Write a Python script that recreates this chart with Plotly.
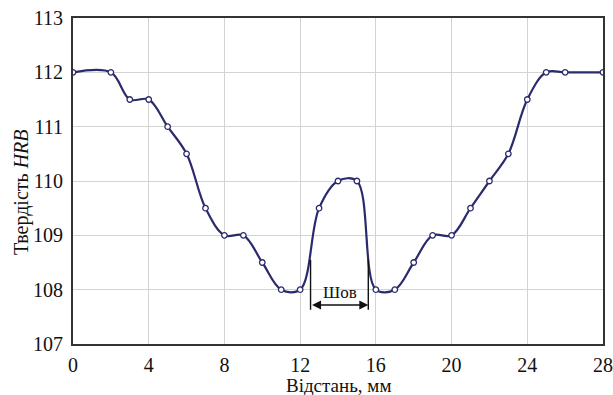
import plotly.graph_objects as go

distance = [0, 2, 3, 4, 5, 6, 7, 8, 9, 10, 11, 12, 13, 14, 15, 16, 17, 18, 19, 20, 21, 22, 23, 24, 25, 26, 28]
hardness = [112, 112, 111.5, 111.5, 111, 110.5, 109.5, 109, 109, 108.5, 108, 108, 109.5, 110, 110,
            108, 108, 108.5, 109, 109, 109.5, 110, 110.5, 111.5, 112, 112, 112]

x_ticks = [0, 4, 8, 12, 16, 20, 24, 28]
y_ticks = [107, 108, 109, 110, 111, 112, 113]

weld_bounds = [12.55, 15.6]
weld_line_y = [107.63, 108.55]
weld_arrow_y = 107.72
weld_label = "Шов"
weld_label_pos = [14.08, 107.95]

x_title = "Відстань, мм"
y_title = "Твердість <i>HRB</i>"

navy = "#2a2a6c"
font_family = "Liberation Serif, serif"

fig = go.Figure()
fig.add_trace(go.Scatter(
    x=distance, y=hardness, mode="lines+markers",
    line=dict(color=navy, width=2.2, shape="spline", smoothing=1.0),
    marker=dict(size=5.5, color="white", line=dict(color=navy, width=1.3)),
    showlegend=False, hoverinfo="x+y",
))

for xb in weld_bounds:
    fig.add_shape(type="line", x0=xb, x1=xb, y0=weld_line_y[0], y1=weld_line_y[1],
                  xref="x", yref="y", line=dict(color="#111111", width=1.4))

fig.add_annotation(x=weld_bounds[1], y=weld_arrow_y, ax=weld_bounds[0], ay=weld_arrow_y,
                   xref="x", yref="y", axref="x", ayref="y", text="", showarrow=True,
                   arrowhead=2, arrowside="end+start", arrowsize=1.2, arrowwidth=1.5,
                   arrowcolor="#111111", standoff=0, startstandoff=0)
fig.add_annotation(x=weld_label_pos[0], y=weld_label_pos[1], xref="x", yref="y",
                   text=weld_label, showarrow=False,
                   font=dict(family=font_family, size=17, color="#111111"))

# axis titles
fig.add_annotation(x=0.5, y=-0.128, xref="paper", yref="paper", text=x_title,
                   showarrow=False, xanchor="center", yanchor="middle",
                   font=dict(family=font_family, size=19, color="#111111"))
fig.add_annotation(x=-0.097, y=0.465, xref="paper", yref="paper", text=y_title,
                   showarrow=False, xanchor="center", yanchor="middle", textangle=-90,
                   font=dict(family=font_family, size=20, color="#111111"))

axis_common = dict(
    showgrid=True, gridcolor="#d3d3d3", gridwidth=1,
    showline=True, linecolor="#333333", linewidth=2, mirror=True,
    ticks="", zeroline=False, automargin=False,
    tickfont=dict(family=font_family, size=20, color="#111111"),
)

fig.update_xaxes(range=[0, 28], tickvals=x_ticks, ticktext=[str(v) for v in x_ticks],
                 ticklabelstandoff=2, **axis_common)
fig.update_yaxes(range=[107, 113], tickvals=y_ticks, ticktext=[str(v) for v in y_ticks],
                 ticklabelstandoff=4, **axis_common)

fig.update_layout(
    width=613, height=395,
    margin=dict(l=73, r=10, t=18, b=51, autoexpand=False),
    paper_bgcolor="white", plot_bgcolor="white",
    font=dict(family=font_family),
)

fig.write_html(
    "out.html",
    config={"displayModeBar": False},
    post_script="document.body.style.margin='0px';document.body.style.overflow='hidden';",
)
